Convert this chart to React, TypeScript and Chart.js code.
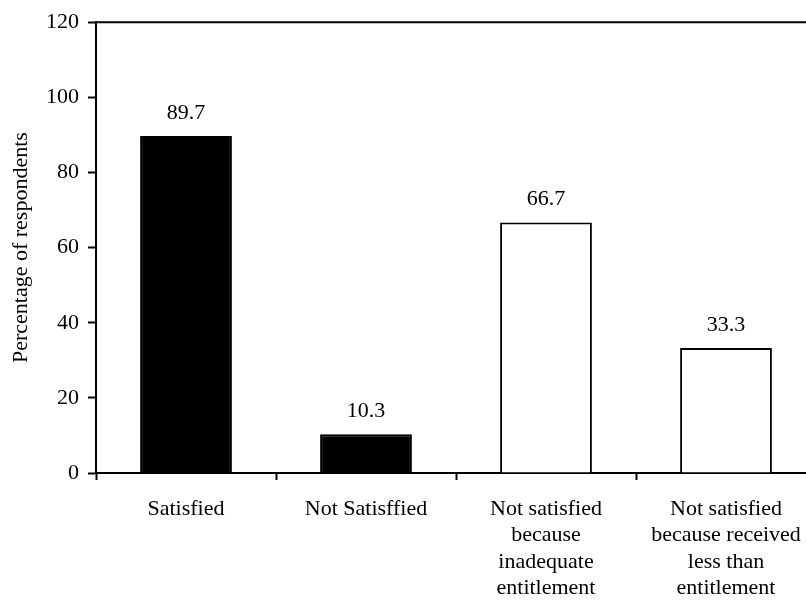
import React, { useEffect, useRef } from 'react';
import { Chart, registerables } from 'chart.js';

Chart.register(...registerables);

const categories: string[][] = [
  ['Satisfied'],
  ['Not Satisffied'],
  ['Not satisfied', 'because', 'inadequate', 'entitlement'],
  ['Not satisfied', 'because received', 'less than', 'entitlement'],
];
const values: number[] = [89.7, 10.3, 66.7, 33.3];
const barFills: string[] = ['#000000', '#000000', '#ffffff', '#ffffff'];
const yMin = 0;
const yMax = 120;
const yStep = 20;
const yTitle = 'Percentage of respondents';

const FONT_FAMILY = '"Liberation Serif", "Times New Roman", serif';
const FONT_SIZE = 22;

const valueLabels = {
  id: 'valueLabels',
  afterDatasetsDraw(chart: any) {
    const ctx = chart.ctx;
    const meta = chart.getDatasetMeta(0);
    ctx.save();
    ctx.font = `${FONT_SIZE}px ${FONT_FAMILY}`;
    ctx.fillStyle = '#000000';
    ctx.textAlign = 'center';
    ctx.textBaseline = 'alphabetic';
    meta.data.forEach((el: any, i: number) => {
      ctx.fillText(values[i].toFixed(1), el.x, el.y - 17);
    });
    ctx.restore();
  },
};

const frameTop = {
  id: 'frameTop',
  afterDraw(chart: any) {
    const { left, right, top } = chart.chartArea;
    const ctx = chart.ctx;
    ctx.save();
    ctx.strokeStyle = '#000000';
    ctx.lineWidth = 2;
    ctx.beginPath();
    ctx.moveTo(left, top);
    ctx.lineTo(right + 1, top);
    ctx.moveTo(right, top);
    ctx.lineTo(right, chart.chartArea.bottom);
    ctx.stroke();
    ctx.restore();
  },
};

export default function App() {
  const ref = useRef<HTMLCanvasElement | null>(null);

  useEffect(() => {
    if (!ref.current) return;
    const chart = new Chart(ref.current, {
      type: 'bar',
      data: {
        labels: categories,
        datasets: [
          {
            data: values,
            backgroundColor: barFills,
            borderColor: '#000000',
            borderWidth: 2,
            borderSkipped: 'bottom',
            categoryPercentage: 1,
            barPercentage: 0.51,
          },
        ],
      },
      options: {
        responsive: false,
        animation: false,
        devicePixelRatio: 1,
        layout: { padding: { top: 22, left: 0, right: 14, bottom: 0 } },
        plugins: {
          legend: { display: false },
          tooltip: { enabled: false },
          title: { display: false },
        },
        scales: {
          x: {
            type: 'category',
            offset: true,
            grid: {
              offset: true,
              drawOnChartArea: false,
              drawTicks: true,
              tickLength: 7,
              tickWidth: 2,
              color: '#000000',
            },
            border: { display: true, color: '#000000', width: 2 },
            ticks: {
              color: '#000000',
              font: { family: FONT_FAMILY, size: FONT_SIZE, lineHeight: 1.2 },
              padding: 16,
              maxRotation: 0,
              minRotation: 0,
              autoSkip: false,
            },
            afterFit: (scale: any) => {
              scale.height = 130;
            },
          },
          y: {
            min: yMin,
            max: yMax,
            grid: {
              drawOnChartArea: false,
              drawTicks: true,
              tickLength: 8,
              tickWidth: 2,
              color: '#000000',
            },
            border: { display: true, color: '#000000', width: 2 },
            ticks: {
              stepSize: yStep,
              color: '#000000',
              font: { family: FONT_FAMILY, size: FONT_SIZE, lineHeight: 1.2 },
              padding: 9,
            },
            title: {
              display: true,
              text: yTitle,
              color: '#000000',
              font: { family: FONT_FAMILY, size: FONT_SIZE, lineHeight: 1.2 },
              padding: { top: 8, bottom: 0 },
            },
            afterFit: (scale: any) => {
              scale.width = 96;
            },
          },
        },
      },
      plugins: [valueLabels, frameTop],
    });
    return () => chart.destroy();
  }, []);

  return (
    <div
      style={{
        position: 'fixed',
        left: 0,
        top: 0,
        width: 806,
        height: 603,
        overflow: 'hidden',
        background: '#ffffff',
      }}
    >
      <canvas
        ref={ref}
        width={830}
        height={603}
        style={{ display: 'block', width: 830, height: 603 }}
      />
    </div>
  );
}
